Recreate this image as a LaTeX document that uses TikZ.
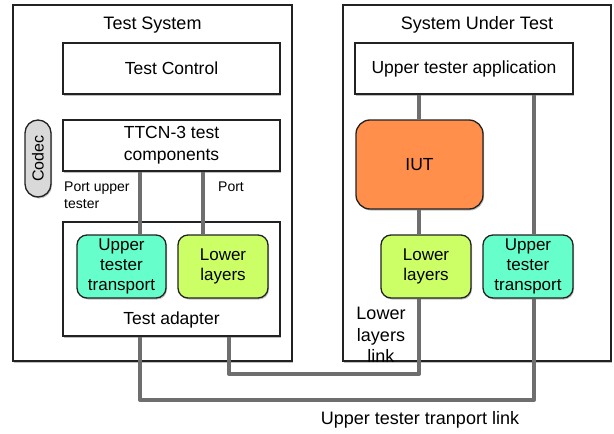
\documentclass[tikz,border=0pt]{standalone}
\usepackage{fontspec}
\setmainfont{Liberation Sans}
\usetikzlibrary{shadows,calc}
\definecolor{aqua}{HTML}{66FFCC}
\definecolor{lime}{HTML}{CCFF66}
\definecolor{iutor}{HTML}{FF8F4A}
\definecolor{codecg}{HTML}{D9D9D9}
\definecolor{linkg}{HTML}{6E6E6E}
\definecolor{edge}{HTML}{222222}
\tikzset{
  shd/.style={drop shadow={shadow xshift=1pt,shadow yshift=-1.5pt,opacity=0.25,fill=black}},
  outer/.style={draw=edge,line width=1.3pt,fill=white,shd,minimum width=#1,inner sep=0},
  plainbox/.style={draw=edge,line width=1.3pt,fill=white,shd,align=center,inner sep=0,
    font=\fontsize{17.5}{22}\selectfont},
  roundbox/.style={draw=edge,line width=1.3pt,rounded corners=10pt,shd,align=center,inner sep=0,
    minimum width=90pt,minimum height=63pt,font=\fontsize{17}{20}\selectfont},
  title/.style={font=\fontsize{18}{22}\selectfont,inner sep=0},
  portlbl/.style={font=\fontsize{14}{17}\selectfont,inner sep=0,align=left},
  linklbl/.style={font=\fontsize{18}{21.5}\selectfont,inner sep=0,align=center},
  link/.style={draw=linkg,line width=4pt}
}
\begin{document}
\begin{tikzpicture}[x=1pt,y=-1pt]
\useasboundingbox (0,0) rectangle (614,434);
% outer boxes
\node[outer=279pt,minimum height=356pt] (ts) at (152.5,183) {};
\node[outer=268pt,minimum height=356pt] (sut) at (477,183) {};
\node[title] (tst) at (152.5,25) {Test System};
\node[title] (sutt) at (477,25) {System Under Test};
% left side
\node[plainbox,minimum width=217pt,minimum height=51pt] (tc) at (171.5,68.5) {Test Control};
\node[plainbox,minimum width=217pt,minimum height=51pt] (ttcn) at (171.5,145.5) {TTCN-3 test\\components};
\node[draw=edge,line width=1.3pt,fill=codecg,rounded corners=13pt,rotate=90,minimum width=77pt,
  minimum height=26pt,inner sep=0,shd,font=\fontsize{16}{19}\selectfont] (codec) at (38,158.5) {Codec};
\node[plainbox,minimum width=217pt,minimum height=114pt] (ta) at (171.5,279) {};
\node[font=\fontsize{17.5}{21}\selectfont,inner sep=0] (tatxt) at (171.5,320) {Test adapter};
\node[roundbox,fill=aqua,minimum width=89pt] (utl) at (121.5,266.5) {Upper\\tester\\transport};
\node[roundbox,fill=lime] (lll) at (223,266.5) {Lower\\layers};
\node[portlbl,anchor=north west] (pu) at (64,182) {Port upper\\tester};
\node[portlbl,anchor=north west] (pp) at (218,182) {Port};
% right side
\node[plainbox,minimum width=218pt,minimum height=51pt] (uta) at (464,68.5) {Upper tester application};
\node[draw=edge,line width=1.3pt,fill=iutor,rounded corners=14pt,shd,minimum width=127pt,
  minimum height=89pt,inner sep=0,font=\fontsize{17.5}{21}\selectfont] (iut) at (419.5,164.5) {IUT};
\node[roundbox,fill=lime] (llr) at (426,266.5) {Lower\\layers};
\node[roundbox,fill=aqua] (utr) at (528,266.5) {Upper\\tester\\transport};
% connectors
\coordinate (xa) at (140,0);
\coordinate (xb) at (203,0);
\coordinate (xc) at (229,0);
\coordinate (xd) at (419,0);
\coordinate (xe) at (534,0);
\coordinate (yl) at (0,374);
\coordinate (yu) at (0,400);
\draw[link] (ttcn.south -| xa) -- (utl.north -| xa);
\draw[link] (ttcn.south -| xb) -- (lll.north -| xb);
\draw[link] (uta.south -| xd) -- (iut.north -| xd);
\draw[link] (iut.south -| xd) -- (llr.north -| xd);
\draw[link] (uta.south -| xe) -- (utr.north -| xe);
\draw[link,line join=round] (ta.south -| xa) -- (xa |- yu) -- (xe |- yu) -- (utr.south -| xe);
\draw[link,line join=round] (ta.south -| xc) -- (xc |- yl) -- (xd |- yl) -- (llr.south -| xd);
% link labels
\node[linklbl] (lll2) at (381,335) {Lower\\layers\\link};
\node[linklbl] (utlink) at (420,420) {Upper tester tranport link};
\end{tikzpicture}
\end{document}
